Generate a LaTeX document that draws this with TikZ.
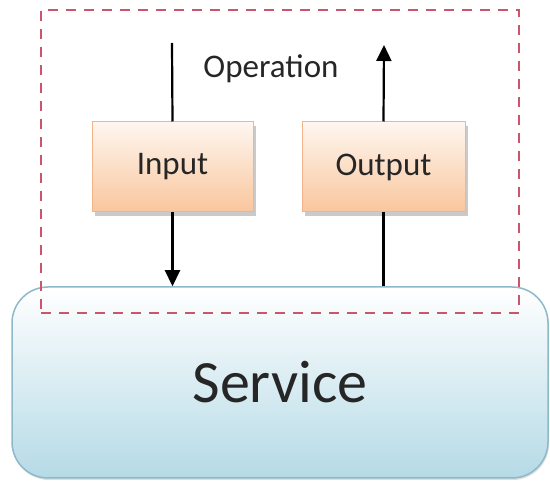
\documentclass[tikz,border=0pt]{standalone}
\usepackage{fontspec}
\setmainfont{Carlito}
\usetikzlibrary{arrows.meta,shadows}
\definecolor{dashred}{HTML}{C9566E}
\definecolor{svcborder}{HTML}{8DB9CA}
\definecolor{svcfill}{HTML}{B5DAE6}
\definecolor{opborder}{HTML}{F2B58A}
\definecolor{opfill}{HTML}{F9C69D}
\definecolor{txt}{HTML}{262626}
\tikzset{
  servicebox/.style={draw=svcborder, line width=1.5pt, rounded corners=36pt,
    top color=white, bottom color=svcfill, text=txt,
    font=\fontsize{60}{64}\selectfont,
    drop shadow={shadow xshift=1pt, shadow yshift=-2pt, opacity=0.25}},
  iobox/.style={draw=opborder, line width=1pt, top color=white!85!opfill, bottom color=opfill,
    text=txt, font=\fontsize{33}{36}\selectfont, minimum height=90pt,
    drop shadow={shadow xshift=3pt, shadow yshift=-4pt, opacity=0.35, fill=black!60}},
  opframe/.style={draw=dashred, line width=2.6pt, dash pattern=on 10pt off 8pt},
  flow/.style={draw=black, line width=2.2pt},
  flowtip/.style={flow, -{Triangle[length=16pt,width=15pt]}}
}
\begin{document}
\begin{tikzpicture}[x=1pt,y=-1pt]
\useasboundingbox (0,0) rectangle (550,481);
\node[servicebox, minimum width=536pt, minimum height=191pt] (svc) at (280,382.5) {Service};
\node[opframe, minimum width=478pt, minimum height=303pt] (op) at (280,161.5) {};
\node[iobox, minimum width=161pt] (in) at (172.5,167) {Input};
\node[iobox, minimum width=163pt] (out) at (383.5,167) {Output};
\node[anchor=base, text=txt, font=\fontsize{33}{36}\selectfont] (oplabel) at (271,78) {Operation};
\coordinate (intop) at (172,43);
\coordinate (outtop) at (384,45);
\draw[flow] (intop) -- (in.north);
\draw[flowtip] (in.south) -- (in.south |- svc.north);
\draw[flow] (svc.north -| out.south) -- (out.south);
\draw[flowtip] (out.north) -- (outtop);
\end{tikzpicture}
\end{document}
